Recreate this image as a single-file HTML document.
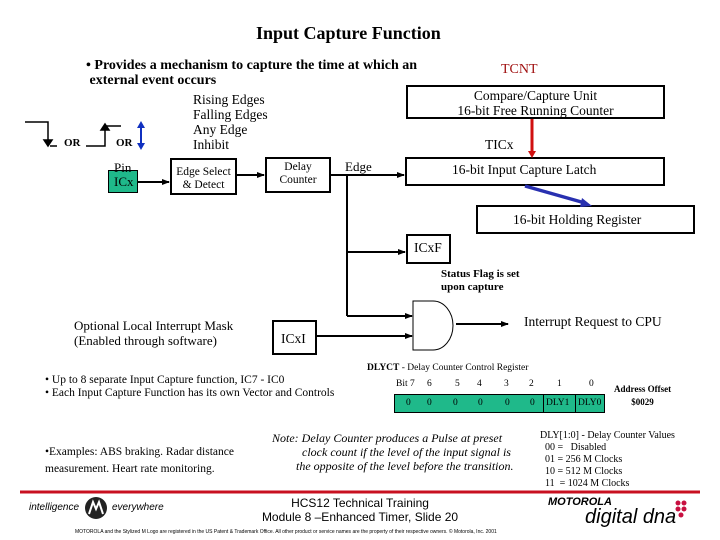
<!DOCTYPE html>
<html><head><meta charset="utf-8">
<style>
body{margin:0;width:720px;height:540px;background:#fff;position:relative;overflow:hidden;font-family:"Liberation Serif",serif;color:#000}
.t{position:absolute;white-space:nowrap;line-height:1}
.box{position:absolute;border:2px solid #000;box-sizing:border-box;background:#fff}
</style></head><body>
<div class="t" style="left:256px;top:24px;font-size:18px;font-weight:bold">Input Capture Function</div>
<div class="t" style="left:86px;top:58px;font-size:14px;font-weight:bold;line-height:15px">• Provides a mechanism to capture the time at which an<br>&nbsp;external event occurs</div>
<div class="t" style="left:193px;top:92px;font-size:13.5px;line-height:15px">Rising Edges<br>Falling Edges<br>Any Edge<br>Inhibit</div>
<div class="t" style="left:501px;top:63px;font-size:14px;color:#a01010">TCNT</div>
<div class="box" style="left:406px;top:85px;width:259px;height:34px"></div>
<div class="t" style="left:406px;top:88px;width:259px;text-align:center;font-size:13.5px;line-height:15px">Compare/Capture Unit<br>16-bit Free Running Counter</div>
<div class="t" style="left:485px;top:138px;font-size:13.5px">TICx</div>
<div class="box" style="left:405px;top:157px;width:260px;height:29px"></div>
<div class="t" style="left:452px;top:163px;font-size:13.5px">16-bit Input Capture Latch</div>
<div class="box" style="left:476px;top:205px;width:219px;height:29px"></div>
<div class="t" style="left:513px;top:213px;font-size:13.5px">16-bit Holding Register</div>
<div class="box" style="left:406px;top:234px;width:45px;height:30px"></div>
<div class="t" style="left:414px;top:241px;font-size:13.5px">ICxF</div>
<div class="t" style="left:441px;top:268px;font-size:11px;font-weight:bold;line-height:13px">Status Flag is set<br>upon capture</div>
<div class="t" style="left:524px;top:315px;font-size:13.5px">Interrupt Request to CPU</div>
<div class="box" style="left:272px;top:320px;width:45px;height:35px"></div>
<div class="t" style="left:281px;top:332px;font-size:13.5px">ICxI</div>
<div class="t" style="left:74px;top:318px;font-size:13px;line-height:15px">Optional Local Interrupt Mask<br>(Enabled through software)</div>
<div class="t" style="left:45px;top:374px;font-size:11.5px;line-height:13px">• Up to 8 separate Input Capture function, IC7 - IC0<br>• Each Input Capture Function has its own Vector and Controls</div>
<div class="t" style="left:45px;top:444px;font-size:11.5px;line-height:17px">•Examples: ABS braking. Radar distance<br>measurement. Heart rate monitoring.</div>
<div class="t" style="left:272px;top:431px;font-size:12px;font-style:italic;line-height:14px">Note: Delay Counter produces a Pulse at preset<br>&nbsp;&nbsp;&nbsp;&nbsp;&nbsp;&nbsp;&nbsp;&nbsp;&nbsp;&nbsp;clock count if the level of the input signal is<br>&nbsp;&nbsp;&nbsp;&nbsp;&nbsp;&nbsp;&nbsp;&nbsp;the opposite of the level before the transition.</div>
<div class="t" style="left:367px;top:364px;font-size:9.5px"><b>DLYCT</b> - Delay Counter Control Register</div>
<div class="t" style="left:396px;top:380px;font-size:9.5px;width:210px">
<span style="position:absolute;left:0">Bit 7</span><span style="position:absolute;left:31px">6</span><span style="position:absolute;left:59px">5</span><span style="position:absolute;left:81px">4</span><span style="position:absolute;left:108px">3</span><span style="position:absolute;left:133px">2</span><span style="position:absolute;left:161px">1</span><span style="position:absolute;left:193px">0</span></div>
<div style="position:absolute;left:394px;top:394px;width:211px;height:19px;background:#1fb98a;border:1px solid #000;box-sizing:border-box"></div>
<div style="position:absolute;left:543px;top:394px;width:1px;height:19px;background:#000"></div>
<div style="position:absolute;left:575px;top:394px;width:1px;height:19px;background:#000"></div>
<div class="t" style="left:396px;top:399px;font-size:9.5px;width:210px">
<span style="position:absolute;left:10px">0</span><span style="position:absolute;left:31px">0</span><span style="position:absolute;left:57px">0</span><span style="position:absolute;left:82px">0</span><span style="position:absolute;left:109px">0</span><span style="position:absolute;left:134px">0</span><span style="position:absolute;left:150px">DLY1</span><span style="position:absolute;left:182px">DLY0</span></div>
<div class="t" style="left:614px;top:383px;font-size:9px;font-weight:bold;line-height:13px;text-align:center">Address Offset<br>$0029</div>
<div class="t" style="left:540px;top:430px;font-size:10px;line-height:12px">DLY[1:0] - Delay Counter Values<br>&nbsp;&nbsp;00 =&nbsp;&nbsp; Disabled<br>&nbsp;&nbsp;01 = 256 M Clocks<br>&nbsp;&nbsp;10 = 512 M Clocks<br>&nbsp;&nbsp;11&nbsp; = 1024 M Clocks</div>

<div style="position:absolute;left:108px;top:170px;width:30px;height:23px;background:#1fb98a;border:1px solid #000;box-sizing:border-box"></div>
<div class="t" style="left:114px;top:161px;font-size:13px;line-height:14px">Pin<br>ICx</div>
<div class="box" style="left:170px;top:158px;width:67px;height:37px"></div>
<div class="t" style="left:170px;top:166px;width:67px;text-align:center;font-size:11.5px;line-height:13px">Edge Select<br>&amp; Detect</div>
<div class="box" style="left:265px;top:157px;width:66px;height:36px"></div>
<div class="t" style="left:265px;top:161px;width:66px;text-align:center;font-size:11.5px;line-height:13px">Delay<br>Counter</div>
<div class="t" style="left:345px;top:160px;font-size:13px">Edge</div>
<div class="t" style="left:64px;top:138px;font-size:11px;font-weight:bold">OR</div>
<div class="t" style="left:116px;top:138px;font-size:11px;font-weight:bold">OR</div>

<svg width="720" height="540" style="position:absolute;left:0;top:0">
<defs>
<marker id="a" markerWidth="8" markerHeight="8" refX="7" refY="4" orient="auto" markerUnits="userSpaceOnUse"><path d="M0,1 L8,4 L0,7z" fill="#000"/></marker>
</defs>
<g stroke="#000" stroke-width="1.5" fill="none">
<path d="M25,122 H48 V144"/><path d="M44,140 L48,146 L52,140z" fill="#000"/>
<path d="M50,146 H57"/>
<path d="M86,146 H105 V126 H121"/><path d="M101,130 L105,124 L109,130z" fill="#000"/>
</g>
<line x1="141" y1="125" x2="141" y2="146" stroke="#1030c0" stroke-width="2"/>
<path d="M137,128 L141,121 L145,128z M137,143 L141,150 L145,143z" fill="#1030c0"/>
<g stroke="#000" stroke-width="2" fill="none">
<line x1="138" y1="182" x2="169" y2="182" marker-end="url(#a)"/>
<line x1="237" y1="175" x2="264" y2="175" marker-end="url(#a)"/>
<line x1="331" y1="175" x2="404" y2="175" marker-end="url(#a)"/>
<line x1="347" y1="175" x2="347" y2="316"/>
<line x1="347" y1="252" x2="405" y2="252" marker-end="url(#a)"/>
<line x1="347" y1="316" x2="412" y2="316" marker-end="url(#a)"/>
<line x1="317" y1="336" x2="412" y2="336" marker-end="url(#a)"/>
<line x1="456" y1="324" x2="508" y2="324" marker-end="url(#a)"/>
</g>
<path d="M413,301 H433 A20,24.5 0 0 1 433,350 H413 Z" fill="#fff" stroke="#000" stroke-width="1"/>
<line x1="532" y1="119" x2="532" y2="152" stroke="#d01010" stroke-width="3"/>
<path d="M528,151 L532,158 L536,151z" fill="#d01010"/>
<line x1="525" y1="186" x2="585" y2="203" stroke="#2830b0" stroke-width="3.5"/>
<path d="M582,198 L592,206 L580,207z" fill="#2830b0"/>
<line x1="20" y1="492" x2="700" y2="492" stroke="#c81020" stroke-width="3"/>
<circle cx="96" cy="508" r="11" fill="#222"/>
<path d="M89,514 L93,502 L96,509 L99,502 L103,514" stroke="#fff" stroke-width="2" fill="none"/>
<g fill="#c81040"><circle cx="678" cy="503" r="2.5"/><circle cx="684" cy="503" r="2.5"/><circle cx="678" cy="509" r="2.5"/><circle cx="684" cy="509" r="2.5"/><circle cx="681" cy="515" r="2.5"/></g>
</svg>
<div class="t" style="left:29px;top:503px;font-family:'Liberation Sans',sans-serif;font-style:italic;font-size:10px">intelligence</div>
<div class="t" style="left:112px;top:503px;font-family:'Liberation Sans',sans-serif;font-style:italic;font-size:10px">everywhere</div>
<div class="t" style="left:250px;top:496px;width:220px;text-align:center;font-family:'Liberation Sans',sans-serif;font-size:12px;line-height:14px">HCS12 Technical Training<br>Module 8 –Enhanced Timer, Slide 20</div>
<div class="t" style="left:548px;top:497px;font-family:'Liberation Sans',sans-serif;font-style:italic;font-weight:bold;font-size:11px">MOTOROLA</div>
<div class="t" style="left:585px;top:507px;font-family:'Liberation Sans',sans-serif;font-style:italic;font-size:20px">digital dna</div>
<div class="t" style="left:75px;top:530px;font-family:'Liberation Sans',sans-serif;font-size:5px">MOTOROLA and the Stylized M Logo are registered in the US Patent &amp; Trademark Office. All other product or service names are the property of their respective owners. © Motorola, Inc. 2001</div>
</body></html>
